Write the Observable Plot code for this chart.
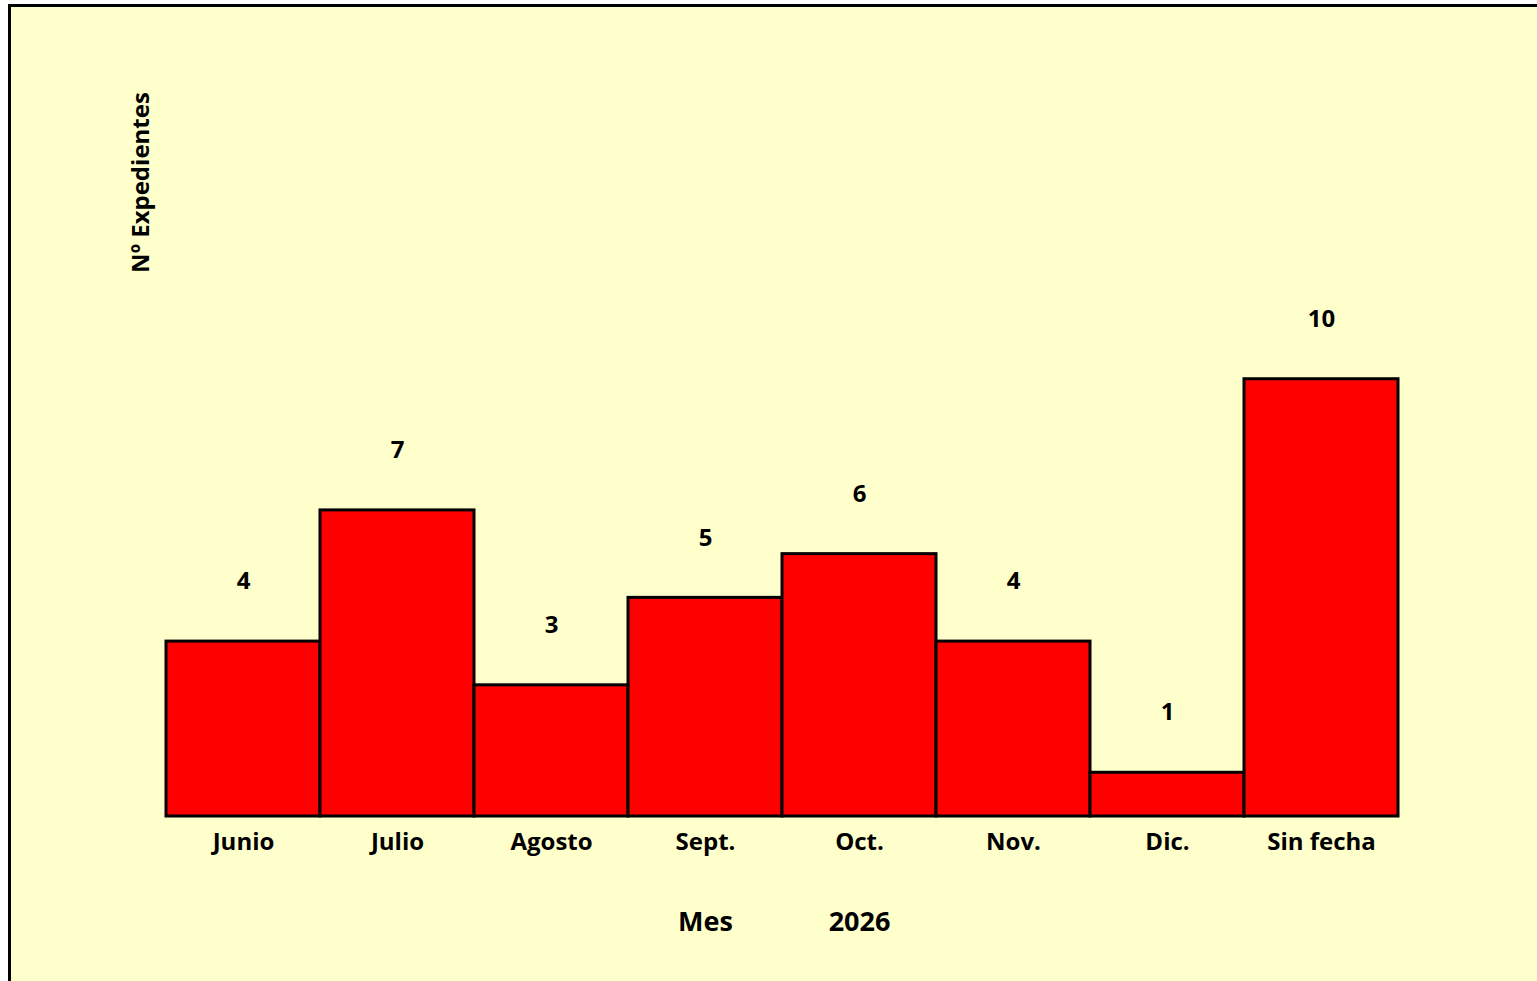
<!DOCTYPE html>
<html>
<head>
<meta charset="utf-8">
<script src="https://cdn.jsdelivr.net/npm/d3@7"></script>
<script src="https://cdn.jsdelivr.net/npm/@observablehq/plot@0.6"></script>
<style>
  html, body { margin: 0; padding: 0; background: #ffffff; overflow: hidden; }
  #box {
    position: absolute; left: 8px; top: 4px;
    width: 1540px; height: 990px;
    border-top: 3px solid #000; border-left: 3px solid #000;
    background: #FFFFCC;
  }
  #box svg { display: block; }
</style>
</head>
<body>
<div id="box"></div>
<script>
const months = ["Junio", "Julio", "Agosto", "Sept.", "Oct.", "Nov.", "Dic.", "Sin fecha"];
const counts = [4, 7, 3, 5, 6, 4, 1, 10];
const yLabel = "Nº Expedientes";
const xLabelParts = [{month: "Sept.", text: "Mes"}, {month: "Oct.", text: "2026"}];

const data = months.map((m, i) => ({month: m, count: counts[i]}));
const font = "'Open Sans', 'Liberation Sans', sans-serif";

const chart = Plot.plot({
  width: 1526,
  height: 977,
  marginLeft: 153,
  marginRight: 137,
  marginTop: 105,
  marginBottom: 168,
  style: {background: "transparent", fontFamily: font, color: "#000"},
  x: {domain: months, padding: 0, label: null},
  y: {domain: [0, 16.1], axis: null},
  marks: [
    Plot.barY(data, {x: "month", y: "count", fill: "#FF0000", stroke: "#000", strokeWidth: 3, inset: 0}),
    Plot.text(data, {x: "month", y: "count", text: d => String(d.count), dy: -60, fontSize: 24, fontWeight: "bold", fill: "#000"}),
    Plot.axisX({tickSize: 0, tickPadding: 16, fontSize: 24, fontWeight: "bold", label: null, fill: "#000"}),
    Plot.text(xLabelParts, {x: "month", text: "text", frameAnchor: "bottom", dy: 114, fontSize: 27, fontWeight: "bold", fill: "#000"}),
    Plot.text([yLabel], {frameAnchor: "top-left", text: d => d, rotate: -90, textAnchor: "middle", dx: -33, dy: 70, fontSize: 24, fontWeight: "bold", fill: "#000"})
  ]
});
document.getElementById("box").appendChild(chart);
</script>
</body>
</html>
